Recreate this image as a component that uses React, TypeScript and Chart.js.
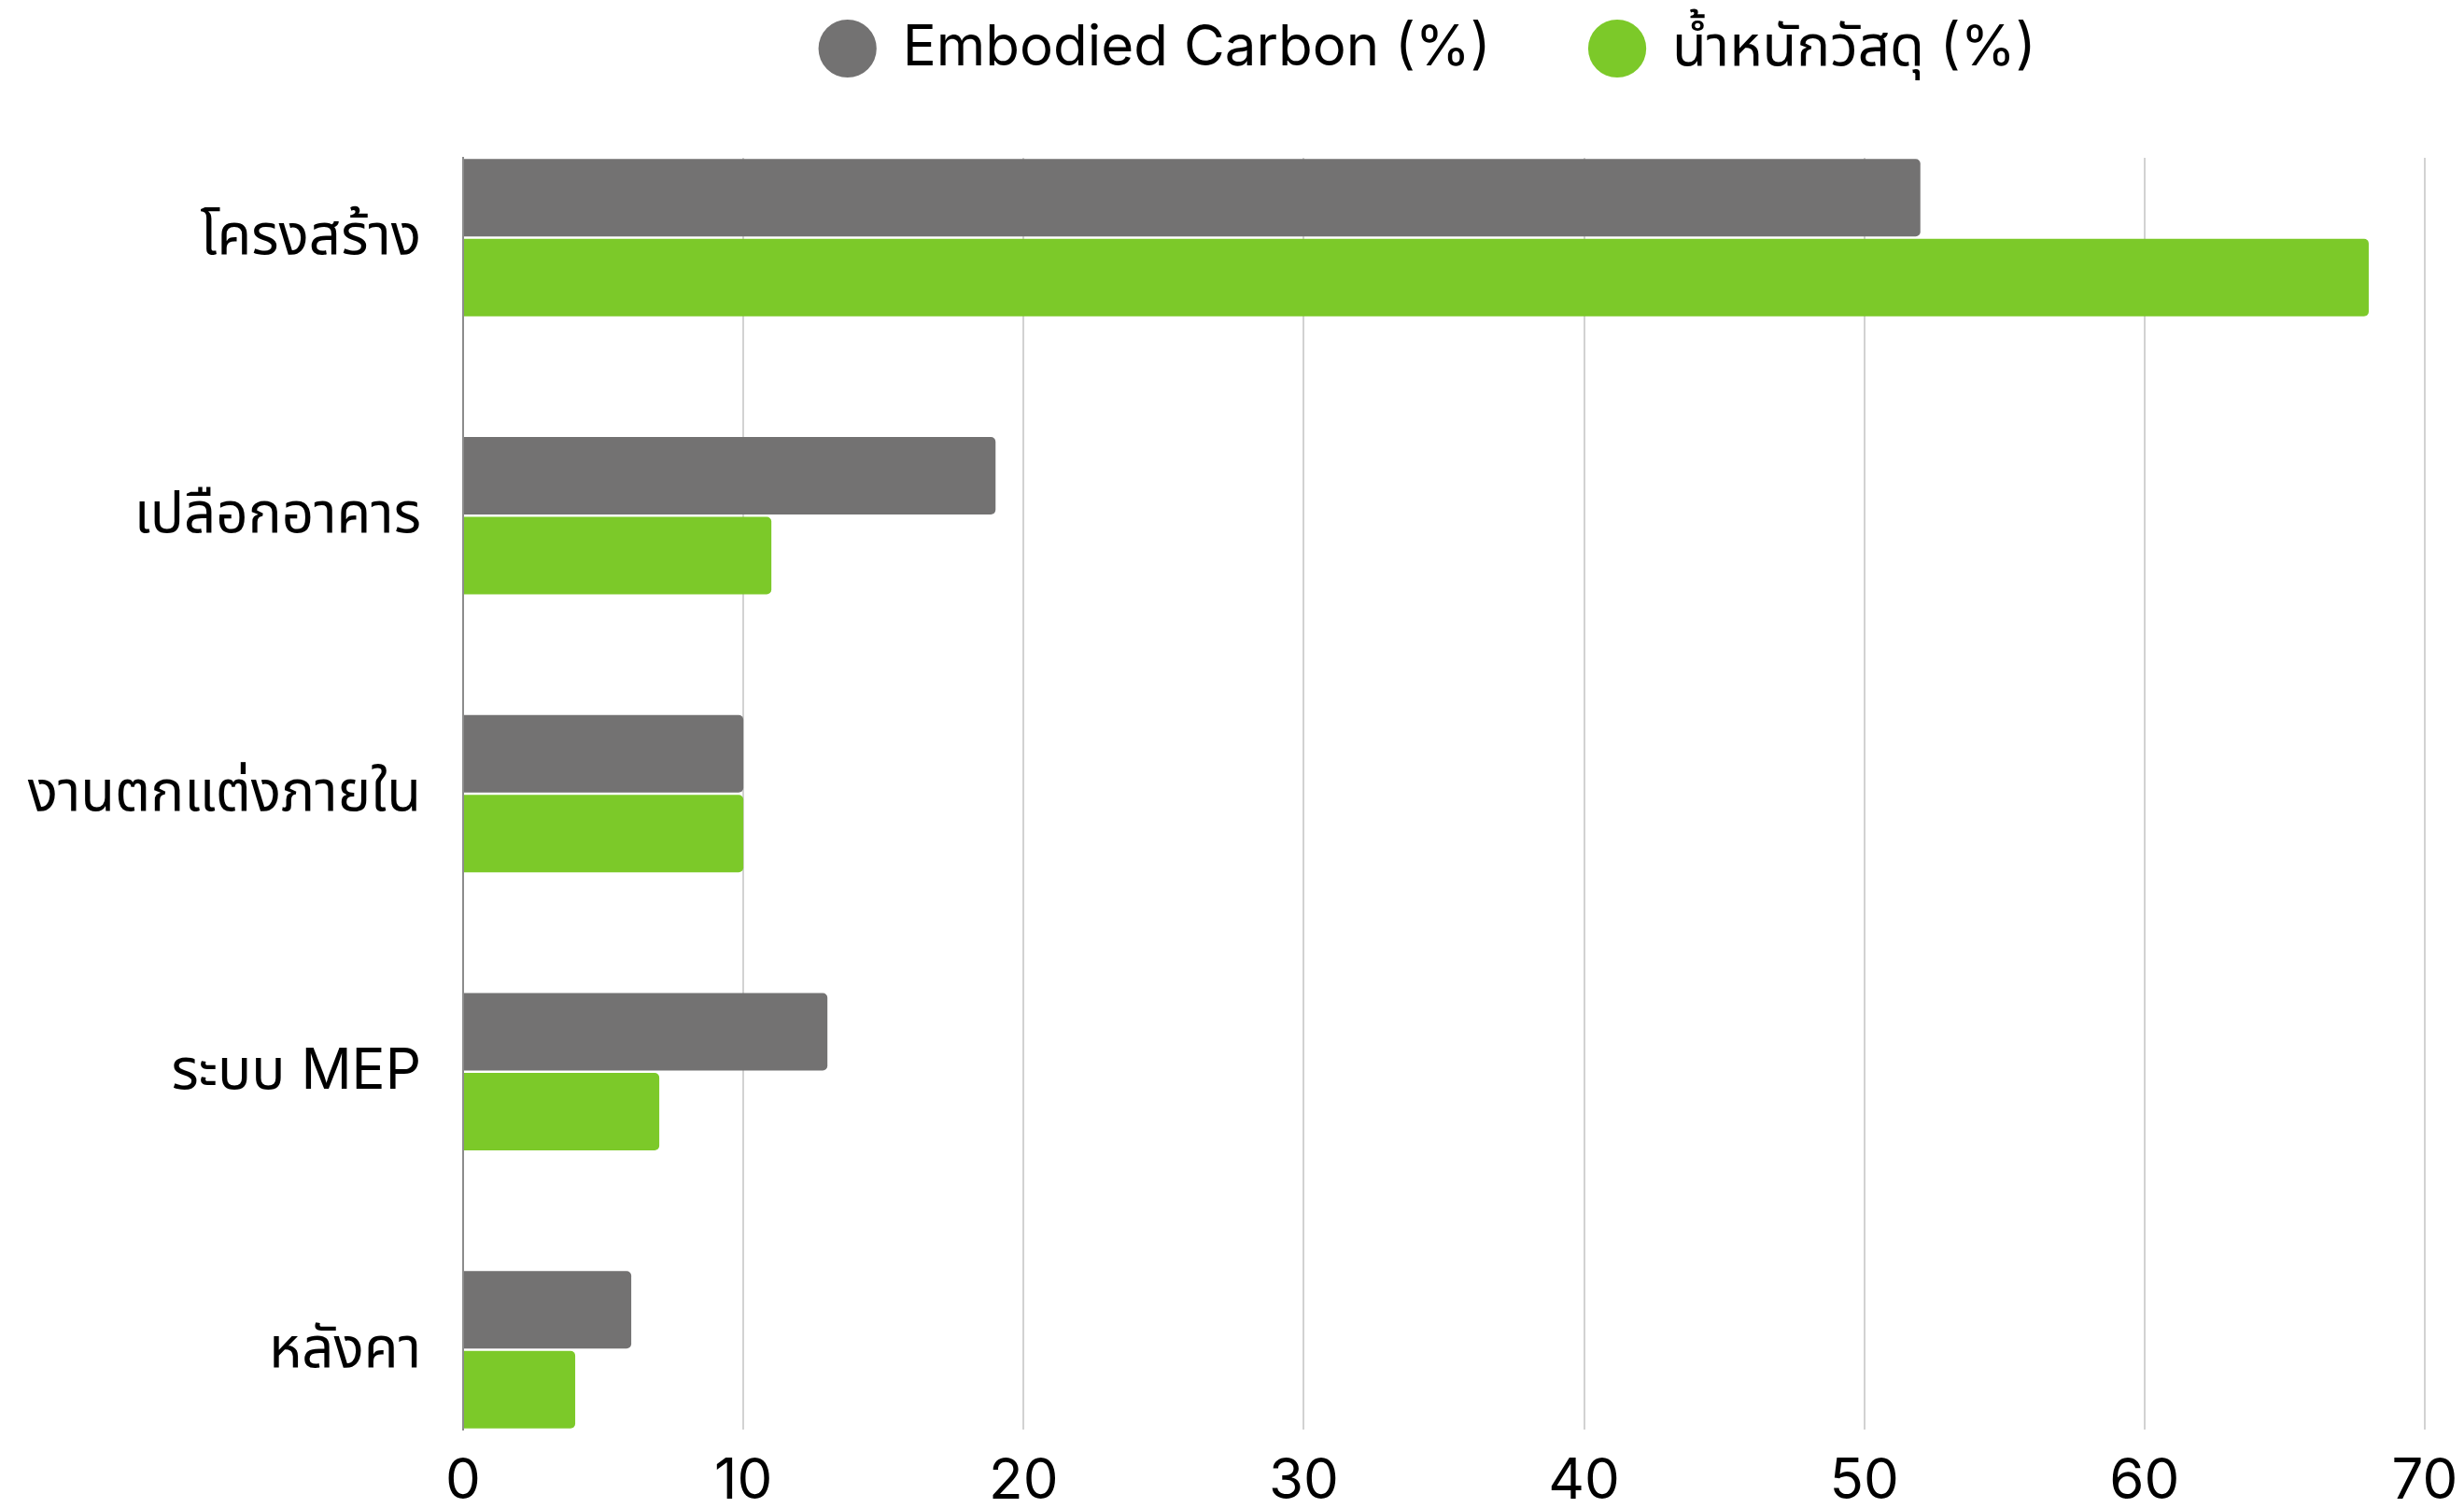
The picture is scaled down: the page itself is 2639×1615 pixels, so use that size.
import React, { useEffect, useRef } from "react";
import { Chart, registerables } from "chart.js";

Chart.register(...registerables);

const categories = ["โครงสร้าง", "เปลือกอาคาร", "งานตกแต่งภายใน", "ระบบ MEP", "หลังคา"];
const carbonValues = [52, 19, 10, 13, 6];
const weightValues = [68, 11, 10, 7, 4];
const seriesNames = ["Embodied Carbon (%)", "น้ำหนักวัสดุ (%)"];
const xTicks = [0, 10, 20, 30, 40, 50, 60, 70];

const FONT = "Inter, 'Noto Sans Thai', 'Noto Sans', sans-serif";

// keeps the legend short at the top but pushes the plot down
const legendSpacer = {
  id: "legendSpacer",
  beforeInit(chart: any) {
    const fit = chart.legend.fit;
    chart.legend.fit = function () {
      fit.call(this);
      this.height = 169;
    };
  },
};

const App: React.FC = () => {
  const chartRef = useRef<HTMLCanvasElement>(null);
  const chartInstance = useRef<Chart>();

  useEffect(() => {
    if (!chartRef.current) return;
    const ctx = chartRef.current.getContext("2d");
    if (!ctx) return;
    if (chartInstance.current) chartInstance.current.destroy();

    chartInstance.current = new Chart(ctx, {
      type: "bar",
      data: {
        datasets: [
          {
            label: seriesNames[0],
            data: carbonValues.map((v, i) => ({ x: v, y: i })),
            backgroundColor: "#737272",
          },
          {
            label: seriesNames[1],
            data: weightValues.map((v, i) => ({ x: v, y: i })),
            backgroundColor: "#7cc929",
          },
        ],
      },
      plugins: [legendSpacer],
      options: {
        indexAxis: "y",
        animation: false,
        responsive: true,
        maintainAspectRatio: false,
        categoryPercentage: 0.574,
        barPercentage: 0.971,
        borderRadius: 5,
        layout: { padding: { left: 0, right: 42, top: 0, bottom: 0 } },
        scales: {
          x: {
            type: "linear",
            min: 0,
            max: 70,
            afterBuildTicks: (axis: any) => {
              axis.ticks = xTicks.map((v) => ({ value: v }));
            },
            afterFit: (scale: any) => {
              scale.height = 84;
              scale.paddingLeft = 0;
              scale.paddingRight = 0;
            },
            ticks: {
              color: "#000",
              padding: 20,
              font: { family: FONT, size: 60 },
            },
            grid: {
              drawTicks: false,
              lineWidth: 2,
              color: (c: any) => (c.tick && c.tick.value === 0 ? "rgba(0,0,0,0)" : "#d2d2d2"),
            },
            border: { display: false },
          },
          y: {
            type: "linear",
            reverse: true,
            offset: false,
            min: -0.287,
            max: 4.287,
            afterBuildTicks: (axis: any) => {
              axis.ticks = categories.map((_, i) => ({ value: i }));
            },
            afterFit: (scale: any) => {
              scale.width = 496;
            },
            ticks: {
              color: "#000",
              padding: 45,
              font: { family: FONT, size: 60 },
              callback: (v: any) => categories[v as number] ?? "",
            },
            grid: { display: false, drawTicks: false, offset: false },
            border: { display: true, color: "#8c8c8c", width: 2 },
          },
        },
        plugins: {
          tooltip: { enabled: false },
          legend: {
            position: "top",
            fullSize: false,
            labels: {
              usePointStyle: true,
              pointStyle: "circle",
              boxWidth: 58,
              boxHeight: 44,
              padding: 22,
              color: "#000",
              font: { family: FONT, size: 60 },
              generateLabels: (chart: any) =>
                Chart.defaults.plugins.legend.labels
                  .generateLabels(chart)
                  .map((item: any, i: number) => ({
                    ...item,
                    lineWidth: 0,
                    text: i === 0 ? item.text + "     " : item.text + "  ",
                  })),
            },
          },
        },
      },
    });

    return () => {
      if (chartInstance.current) {
        chartInstance.current.destroy();
        chartInstance.current = undefined;
      }
    };
  }, []);

  return (
    <div style={styles.frame}>
      <canvas ref={chartRef} />
    </div>
  );
};

const styles = {
  frame: {
    position: "fixed" as const,
    left: 0,
    top: 0,
    width: "100vw",
    height: "100vh",
    background: "#fff",
  },
};

export default App;
